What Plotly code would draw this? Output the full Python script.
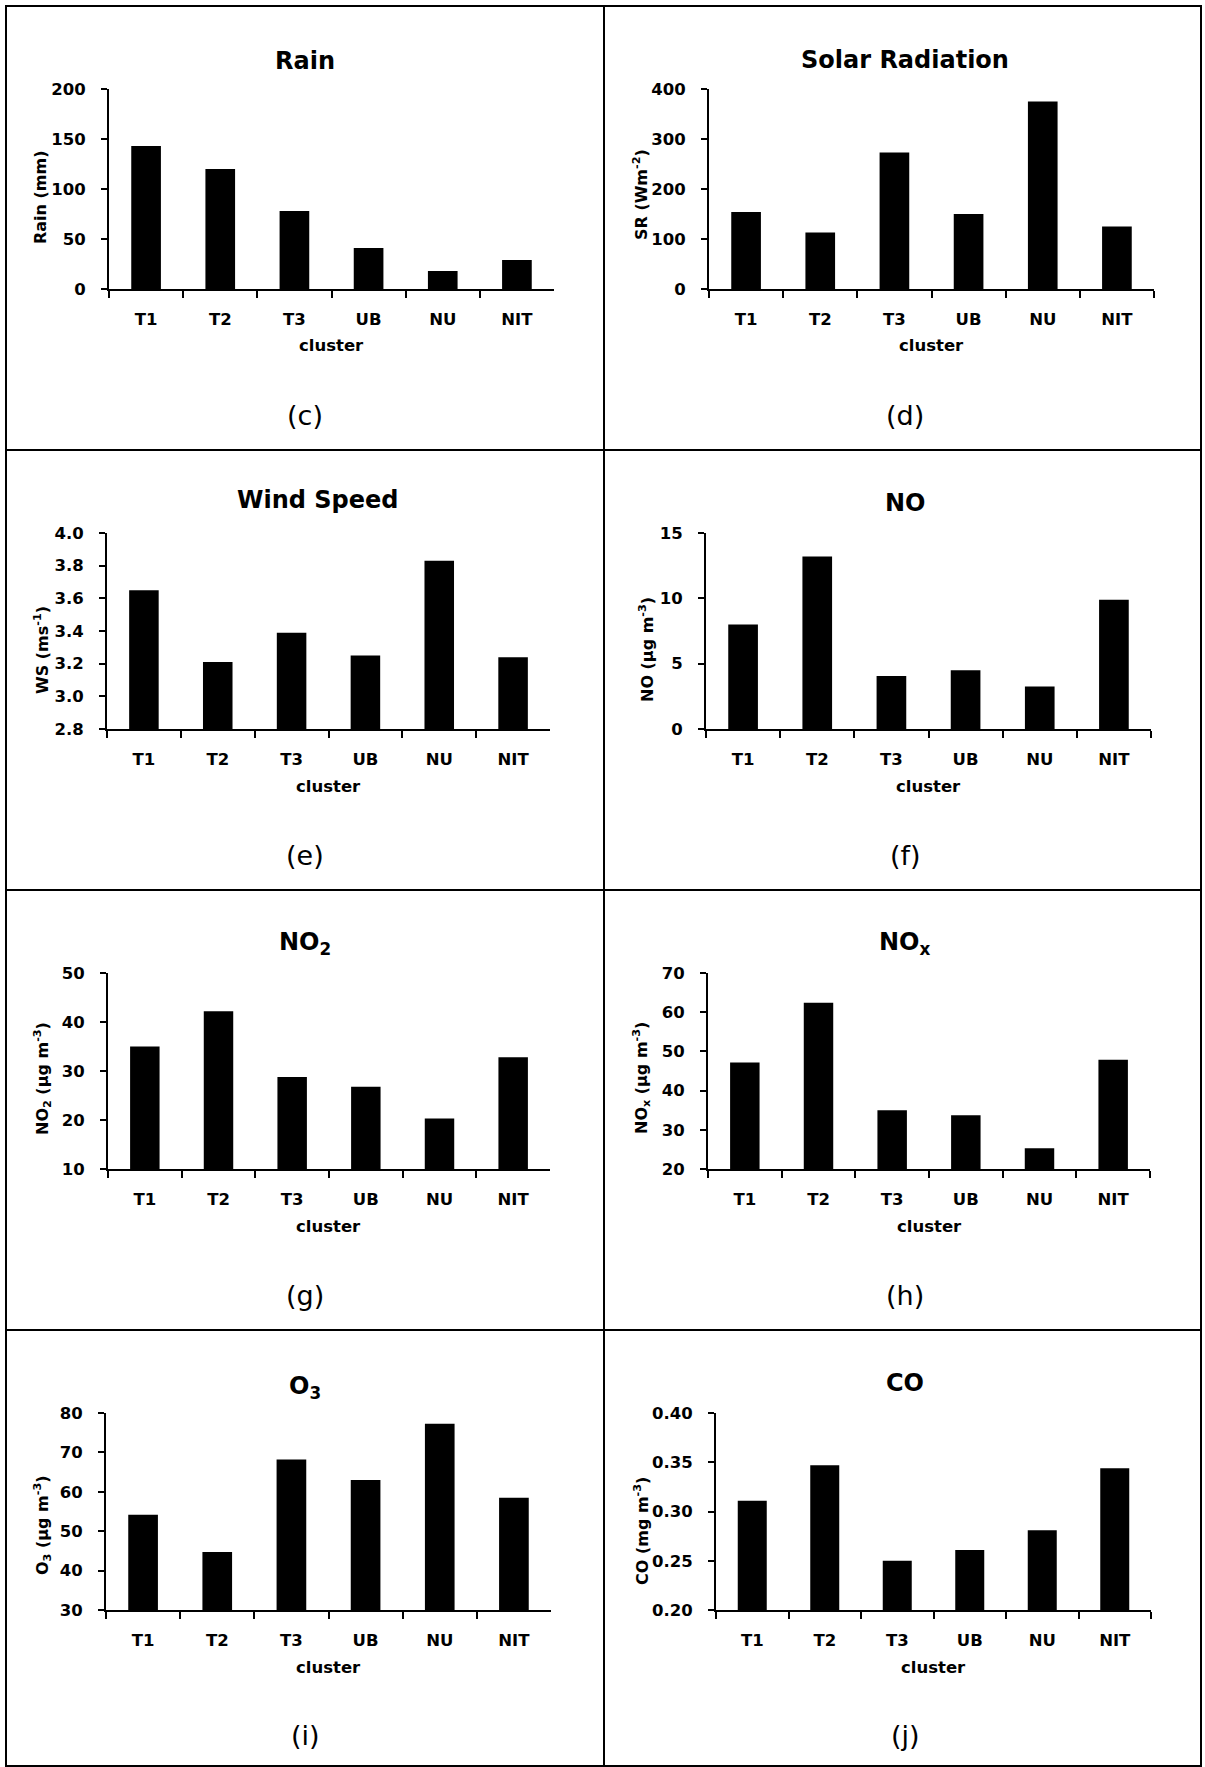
import plotly.graph_objects as go

W, H = 1205, 1767

clusters = ["T1", "T2", "T3", "UB", "NU", "NIT"]
rain = [143, 120, 78, 41, 18, 29]
solar = [154, 113, 273, 150, 375, 125]
wind = [3.65, 3.21, 3.39, 3.25, 3.83, 3.24]
no = [8.0, 13.2, 4.05, 4.5, 3.25, 9.9]
no2 = [35.0, 42.2, 28.8, 26.8, 20.3, 32.8]
nox = [47.2, 62.4, 35.0, 33.7, 25.3, 47.9]
o3 = [54.2, 44.7, 68.2, 63.0, 77.3, 58.5]
co = [0.311, 0.347, 0.250, 0.261, 0.281, 0.344]

titles = ["Rain", "Solar Radiation", "Wind Speed", "NO", "NO<sub>2</sub>", "NO<sub>x</sub>",
          "O<sub>3</sub>", "CO"]
ytitles = ["Rain (mm)", "SR (Wm<sup>-2</sup>)", "WS (ms<sup>-1</sup>)", "NO (µg m<sup>-3</sup>)",
           "NO<sub>2</sub> (µg m<sup>-3</sup>)", "NO<sub>x</sub> (µg m<sup>-3</sup>)",
           "O<sub>3</sub> (µg m<sup>-3</sup>)", "CO (mg m<sup>-3</sup>)"]
labels = ["(c)", "(d)", "(e)", "(f)", "(g)", "(h)", "(i)", "(j)"]
series = [rain, solar, wind, no, no2, nox, o3, co]
yranges = [(0, 200), (0, 400), (2.8, 4.0), (0, 15), (10, 50), (20, 70), (30, 80), (0.20, 0.40)]
dticks = [50, 100, 0.2, 5, 10, 10, 10, 0.05]
fmts = ["", "", ".1f", "", "", "", "", ".2f"]

# layout geometry in pixels: (x0, x1, ytop, ybottom)
boxes = [
    (109, 554, 89, 289), (709, 1154, 89, 289),
    (107, 550, 533, 729), (706, 1151, 533, 729),
    (108, 550, 973, 1169), (708, 1150, 973, 1169),
    (106, 551, 1413, 1610), (716, 1151, 1413, 1610),
]
title_pos = [(305, 61), (905, 60), (318, 500), (905, 503), (305, 943), (905, 943), (305, 1387), (905, 1383)]
ytitle_pos = [(40, 197), (640, 195), (42, 650), (647, 650), (42, 1079), (641, 1078), (42, 1525), (641, 1531)]

def px(x):
    return x / W

def py(y):
    return 1 - y / H

BOLD = "'DejaVu Sans', sans-serif"
REG = "'DejaVu Sans', sans-serif"

fig = go.Figure()
annotations = []
for i in range(8):
    n = i + 1
    xa = "x" if n == 1 else f"x{n}"
    ya = "y" if n == 1 else f"y{n}"
    fig.add_trace(go.Bar(x=clusters, y=series[i], xaxis=xa, yaxis=ya,
                         marker=dict(color="black", line=dict(width=0)),
                         showlegend=False))
    x0, x1, yt, yb = boxes[i]
    xkey = "xaxis" if n == 1 else f"xaxis{n}"
    ykey = "yaxis" if n == 1 else f"yaxis{n}"
    fig.layout[xkey] = dict(domain=[px(x0), px(x1)], anchor=ya, type="category",
                            range=[-0.5, 5.5], showline=True, linecolor="black", linewidth=2,
                            ticks="outside", tickson="boundaries", ticklen=7, tickwidth=2,
                            tickcolor="black", showgrid=False, zeroline=False, automargin=False,
                            tickfont=dict(family=BOLD, size=16.5, color="black", weight="bold"),
                            ticklabelstandoff=14, fixedrange=True)
    fig.layout[ykey] = dict(domain=[py(yb), py(yt)], anchor=xa, range=list(yranges[i]),
                            dtick=dticks[i], tick0=yranges[i][0], tickformat=fmts[i],
                            showline=True, linecolor="black", linewidth=2,
                            ticks="outside", ticklen=6, tickwidth=2, tickcolor="black",
                            showgrid=False, zeroline=False, automargin=False,
                            tickfont=dict(family=BOLD, size=16.5, color="black", weight="bold"),
                            ticklabelstandoff=12, fixedrange=True)
    tx, ty = title_pos[i]
    annotations.append(dict(text=f"<b>{titles[i]}</b>", x=px(tx), y=py(ty), xref="paper", yref="paper",
                            showarrow=False, xanchor="center", yanchor="middle",
                            font=dict(family=BOLD, size=24, color="black")))
    yx, yy = ytitle_pos[i]
    annotations.append(dict(text=f"<b>{ytitles[i]}</b>", x=px(yx), y=py(yy), xref="paper", yref="paper",
                            showarrow=False, xanchor="center", yanchor="middle", textangle=-90,
                            font=dict(family=BOLD, size=16, color="black")))
    annotations.append(dict(text="<b>cluster</b>", x=px((x0 + x1) / 2), y=py(yb + 57), xref="paper",
                            yref="paper", showarrow=False, xanchor="center", yanchor="middle",
                            font=dict(family=BOLD, size=16.5, color="black")))
    annotations.append(dict(text=labels[i], x=px(305 if i % 2 == 0 else 905), y=py(415 + (i // 2) * 440),
                            xref="paper", yref="paper", showarrow=False, xanchor="center",
                            yanchor="middle", font=dict(family=REG, size=27, color="black")))

shapes = []
line = dict(color="black", width=2)
shapes.append(dict(type="rect", xref="paper", yref="paper", x0=px(6), x1=px(1201), y0=py(6), y1=py(1766), line=line))
shapes.append(dict(type="line", xref="paper", yref="paper", x0=px(604), x1=px(604), y0=py(6), y1=py(1766), line=line))
for yy in (450, 890, 1330):
    shapes.append(dict(type="line", xref="paper", yref="paper", x0=px(6), x1=px(1201), y0=py(yy), y1=py(yy), line=line))

fig.update_layout(width=W, height=H, margin=dict(l=0, r=0, t=0, b=0, pad=0, autoexpand=False),
                  paper_bgcolor="white", plot_bgcolor="white", bargap=0.6,
                  annotations=annotations, shapes=shapes,
                  font=dict(family=BOLD, color="black"))

fig.write_html("out.html", config={"displayModeBar": False})
